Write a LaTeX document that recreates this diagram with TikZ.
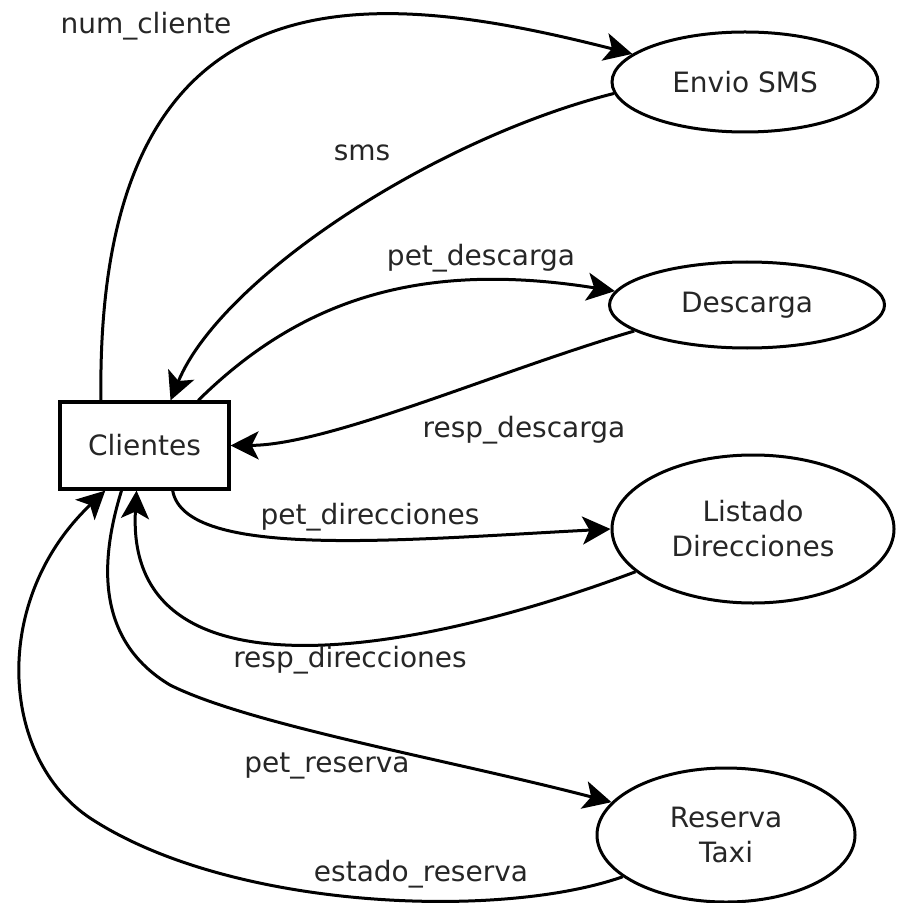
\documentclass[tikz,border=0pt]{standalone}
\usepackage{fontspec}
\setmainfont{DejaVu Sans}
\usetikzlibrary{arrows.meta,shapes.geometric}
\tikzset{
  proceso/.style={ellipse,draw,line width=1.5pt,align=center},
  entidad/.style={rectangle,draw,line width=1.6pt,minimum width=84.5pt,minimum height=43.5pt},
  flujo/.style={line width=1.5pt,-{Stealth[length=14pt,width=14pt,inset=3.5pt]}},
  etiqueta/.style={inner sep=1pt}
}

\begin{document}
\begin{tikzpicture}[x=0.5pt,y=-0.5pt,font=\fontsize{14}{17.5}\selectfont,text=black!85]
  \useasboundingbox (0,0) rectangle (896,903);
  % entidad y procesos
  \node[entidad] (cli) at (144.5,445.5) {Clientes};
  \node[proceso,minimum width=133pt,minimum height=50pt] (sms) at (745,82) {Envio SMS};
  \node[proceso,minimum width=137.5pt,minimum height=43pt] (desc) at (747,305) {Descarga};
  \node[proceso,minimum width=141pt,minimum height=74pt] (lst) at (753,529) {Listado\\Direcciones};
  \node[proceso,minimum width=129pt,minimum height=67pt] (res) at (726,835) {Reserva\\Taxi};
  % flujos
  \draw[flujo] (cli.134) .. controls (95,-50) and (380,-10) .. (sms.166);
  \draw[flujo] (sms.185) .. controls (430,140) and (220,280) .. (cli.60);
  \draw[flujo] (cli.40) .. controls (300,300) and (420,260) .. (desc.174);
  \draw[flujo] (desc.193) .. controls (500,370) and (330,445) .. (cli.east);
  \draw[flujo] (cli.-58) .. controls (185,560) and (400,540) .. (lst.west);
  \draw[flujo] (lst.200) .. controls (400,660) and (125,700) .. (cli.-100);
  \draw[flujo] (cli.243) .. controls (100,560) and (95,640) .. (170,685)
    .. controls (250,725) and (450,760) .. (res.164);
  \draw[flujo] (res.202) .. controls (500,920) and (230,910) .. (90,818)
    .. controls (0,758) and (-10,600) .. (cli.229);
  % etiquetas
  \node[etiqueta] (lnum) at (146,26) {num\_cliente};
  \node[etiqueta] (lsms) at (362,153) {sms};
  \node[etiqueta] (lpdes) at (481,258) {pet\_descarga};
  \node[etiqueta] (lrdes) at (524,430) {resp\_descarga};
  \node[etiqueta] (lpdir) at (370,517) {pet\_direcciones};
  \node[etiqueta] (lrdir) at (350,660) {resp\_direcciones};
  \node[etiqueta] (lpres) at (327,766) {pet\_reserva};
  \node[etiqueta] (lest) at (421,874) {estado\_reserva};
\end{tikzpicture}
\end{document}
